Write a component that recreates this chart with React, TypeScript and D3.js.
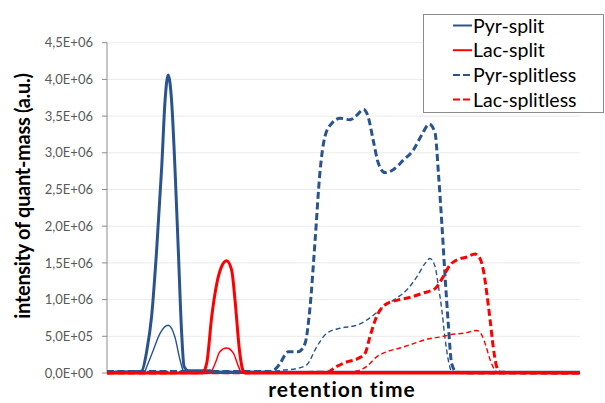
import React from "react";
import * as d3 from "d3";

// Retention time (min) and intensity (a.u.) pairs for each trace
type Pt = [number, number];

const pyrSplit: Pt[] = [
  [0, 0.01e6], [0.92, 0.02e6], [1.03, 0.03e6], [1.18, 0.31e6], [1.32, 0.77e6],
  [1.47, 1.68e6], [1.62, 2.81e6], [1.72, 3.72e6], [1.81, 4.06e6], [1.91, 3.72e6],
  [2.01, 2.81e6], [2.11, 1.68e6], [2.21, 0.54e6], [2.28, 0.09e6], [2.41, 0.03e6],
  [3.05, 0.03e6], [3.2, 0.01e6], [14, 0.01e6],
];
const pyrSplitLow: Pt[] = [
  [0, 0], [1.1, 0], [1.18, 0.09e6], [1.37, 0.31e6], [1.57, 0.54e6], [1.81, 0.65e6],
  [2.01, 0.49e6], [2.16, 0.18e6], [2.26, 0.03e6], [2.35, 0], [14, 0],
];
const lacSplit: Pt[] = [
  [0, 0], [2.82, 0], [2.95, 0.13e6], [3.1, 0.77e6], [3.25, 1.22e6], [3.39, 1.45e6],
  [3.54, 1.53e6], [3.69, 1.4e6], [3.79, 0.99e6], [3.92, 0.31e6], [4.02, 0.04e6],
  [4.1, 0], [14, 0],
];
const lacSplitLow: Pt[] = [
  [0, 0], [3.05, 0], [3.2, 0.13e6], [3.34, 0.29e6], [3.54, 0.34e6], [3.74, 0.27e6],
  [3.89, 0.09e6], [3.99, 0], [14, 0],
];
const pyrSplitless: Pt[] = [
  [0, 0.02e6], [4.82, 0.02e6], [5.02, 0.07e6], [5.12, 0.13e6], [5.37, 0.29e6],
  [5.66, 0.29e6], [5.86, 0.4e6], [6.01, 0.9e6], [6.16, 1.81e6], [6.3, 2.72e6],
  [6.45, 3.22e6], [6.65, 3.4e6], [6.9, 3.47e6], [7.19, 3.45e6], [7.39, 3.51e6],
  [7.59, 3.59e6], [7.73, 3.49e6], [7.88, 3.17e6], [8.03, 2.86e6], [8.23, 2.73e6],
  [8.47, 2.77e6], [8.77, 2.9e6], [9.07, 3.04e6], [9.31, 3.24e6], [9.54, 3.39e6],
  [9.71, 3.27e6], [9.81, 2.72e6], [9.91, 2.04e6], [10.0, 1.36e6], [10.1, 0.68e6],
  [10.2, 0.13e6], [10.35, 0.01e6], [10.74, 0], [14, 0],
];
const pyrSplitlessLow: Pt[] = [
  [0, 0.02e6], [4.82, 0.02e6], [5.22, 0.04e6], [5.61, 0.06e6], [5.91, 0.11e6],
  [6.21, 0.36e6], [6.5, 0.54e6], [6.9, 0.61e6], [7.39, 0.65e6], [7.78, 0.75e6],
  [8.18, 0.9e6], [8.57, 1.02e6], [8.87, 1.13e6], [9.17, 1.31e6], [9.41, 1.49e6],
  [9.56, 1.56e6], [9.71, 1.45e6], [9.81, 1.18e6], [9.91, 0.86e6], [10.0, 0.49e6],
  [10.1, 0.18e6], [10.2, 0.02e6], [10.35, 0], [14, 0],
];
const lacSplitless: Pt[] = [
  [0, 0], [6.5, 0.01e6], [6.8, 0.09e6], [7.09, 0.15e6], [7.44, 0.2e6], [7.64, 0.27e6],
  [7.78, 0.49e6], [7.98, 0.77e6], [8.23, 0.93e6], [8.57, 0.99e6], [8.97, 1.03e6],
  [9.36, 1.09e6], [9.71, 1.15e6], [9.95, 1.31e6], [10.15, 1.47e6], [10.35, 1.54e6],
  [10.65, 1.58e6], [10.89, 1.62e6], [11.04, 1.56e6], [11.14, 1.4e6], [11.24, 1.09e6],
  [11.34, 0.72e6], [11.43, 0.36e6], [11.53, 0.09e6], [11.63, 0.01e6], [14, 0],
];
const lacSplitlessLow: Pt[] = [
  [0, 0], [6.9, 0.01e6], [7.29, 0.02e6], [7.69, 0.09e6], [7.98, 0.22e6], [8.28, 0.29e6],
  [8.67, 0.34e6], [9.07, 0.4e6], [9.46, 0.46e6], [9.86, 0.49e6], [10.15, 0.52e6],
  [10.65, 0.55e6], [10.94, 0.58e6], [11.09, 0.52e6], [11.22, 0.36e6], [11.34, 0.18e6],
  [11.48, 0.04e6], [11.58, 0], [14, 0],
];

const yTicks = [0, 0.5e6, 1e6, 1.5e6, 2e6, 2.5e6, 3e6, 3.5e6, 4e6, 4.5e6];
const legendNames = ["Pyr-split", "Lac-split", "Pyr-splitless", "Lac-splitless"];

const BLUE = "#2A5490";
const RED = "#FF0000";

interface Trace {
  data: Pt[];
  color: string;
  width: number;
  dash?: string;
}

const traces: Trace[] = [
  { data: pyrSplitlessLow, color: BLUE, width: 1.4, dash: "5,3" },
  { data: lacSplitlessLow, color: RED, width: 1.4, dash: "5,3" },
  { data: pyrSplitless, color: BLUE, width: 3, dash: "7,3.5" },
  { data: lacSplitless, color: RED, width: 3, dash: "7,3.5" },
  { data: pyrSplitLow, color: BLUE, width: 1.4 },
  { data: pyrSplit, color: BLUE, width: 3 },
  { data: lacSplitLow, color: RED, width: 1.4 },
  { data: lacSplit, color: RED, width: 3 },
];

const legendStyles = [
  { color: BLUE, dash: undefined },
  { color: RED, dash: undefined },
  { color: BLUE, dash: "7,3" },
  { color: RED, dash: "7,3" },
];

function fmtSci(v: number): string {
  const [m, e] = v.toExponential(1).split("e");
  const sign = e[0] === "-" ? "-" : "+";
  const ex = e.replace(/^[+-]/, "").padStart(2, "0");
  return `${m.replace(".", ",")}E${sign}${ex}`;
}

const W = 605;
const H = 403;
const plot = { left: 107, right: 580, top: 42.7, bottom: 373 };

export default function App() {
  const x = d3.scaleLinear().domain([0, 14]).range([plot.left, plot.right]);
  const y = d3.scaleLinear().domain([0, 4.5e6]).range([plot.bottom, plot.top]);
  const line = d3
    .line<Pt>()
    .x((d) => x(d[0]))
    .y((d) => y(d[1]))
    .curve(d3.curveMonotoneX);

  const font = "Lato, 'Open Sans', sans-serif";

  return (
    <svg
      width={W}
      height={H}
      viewBox={`0 0 ${W} ${H}`}
      style={{ position: "absolute", left: 0, top: 0, background: "#fff" }}
    >
      {/* gridlines */}
      {yTicks.map((t) => (
        <line
          key={"g" + t}
          x1={plot.left}
          x2={plot.right}
          y1={y(t)}
          y2={y(t)}
          stroke="#EAEAEA"
          strokeWidth={1}
        />
      ))}
      {/* y axis */}
      <line x1={plot.left} x2={plot.left} y1={plot.top} y2={plot.bottom} stroke="#8C8C8C" strokeWidth={1} />
      {yTicks.map((t) => (
        <g key={"t" + t}>
          <line x1={plot.left - 5} x2={plot.left} y1={y(t)} y2={y(t)} stroke="#8C8C8C" strokeWidth={1} />
          <text
            x={93}
            y={y(t)}
            dy="0.36em"
            textAnchor="end"
            fontFamily={font}
            fontSize={13}
            fill="#595959"
          >
            {fmtSci(t)}
          </text>
        </g>
      ))}
      <line x1={plot.left} x2={plot.right} y1={plot.bottom} y2={plot.bottom} stroke="#BFBFBF" strokeWidth={1} />

      {/* traces */}
      {traces.map((tr, i) => (
        <path
          key={"p" + i}
          d={line(tr.data) ?? ""}
          fill="none"
          stroke={tr.color}
          strokeWidth={tr.width}
          strokeDasharray={tr.dash}
          strokeLinejoin="round"
        />
      ))}

      {/* axis titles */}
      <text
        transform={`translate(30,196) rotate(-90)`}
        textAnchor="middle"
        fontFamily={font}
        fontWeight={700}
        fontSize={20}
        letterSpacing={-0.3}
        fill="#000"
      >
        intensity of quant-mass (a.u.)
      </text>
      <text
        x={342}
        y={397}
        textAnchor="middle"
        fontFamily={font}
        fontWeight={700}
        fontSize={21}
        letterSpacing={1}
        fill="#000"
      >
        retention time
      </text>

      {/* legend */}
      <rect x={423.5} y={14.5} width={180} height={98} fill="#fff" stroke="#8C8C8C" strokeWidth={1} />
      {legendNames.map((name, i) => {
        const cy = 25.5 + i * 24.7;
        const st = legendStyles[i];
        return (
          <g key={name}>
            <line x1={453} x2={472} y1={cy} y2={cy} stroke={st.color} strokeWidth={2} strokeDasharray={st.dash} />
            <text x={473} y={cy} dy="0.36em" fontFamily={font} fontSize={19.5} fill="#000">
              {name}
            </text>
          </g>
        );
      })}
    </svg>
  );
}
